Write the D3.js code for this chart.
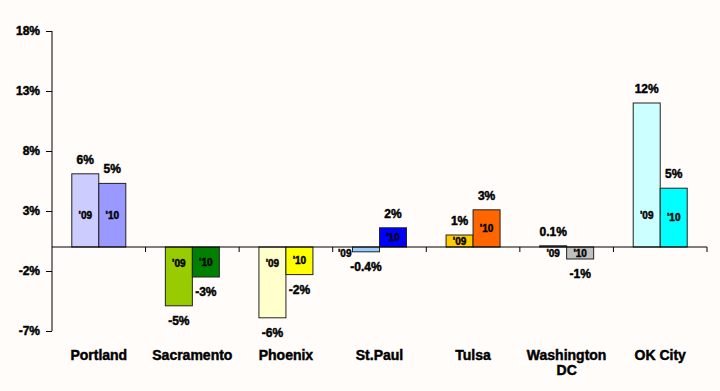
<!DOCTYPE html>
<html>
<head>
<meta charset="utf-8">
<script src="https://cdn.jsdelivr.net/npm/d3@7"></script>
<style>
  body { margin: 0; background: #fffcfa; }
  text { font-family: Arial, "Liberation Sans", sans-serif; font-weight: bold; fill: #000; stroke: #000; stroke-width: 0.45px; }
</style>
</head>
<body>
<div id="chart"></div>
<script>
// Data
let cities = ['Portland', 'Sacramento', 'Phoenix', 'St.Paul', 'Tulsa', 'Washington\nDC', 'OK City'];
let years = ["'09", "'10"];
let change09 = [6.1, -4.9, -5.9, -0.4, 1.0, 0.1, 12.0];
let change10 = [5.3, -2.5, -2.3, 1.6, 3.1, -1.0, 4.9];
let labels09 = ['6%', '-5%', '-6%', '-0.4%', '1%', '0.1%', '12%'];
let labels10 = ['5%', '-3%', '-2%', '2%', '3%', '-1%', '5%'];
let colors09 = ['#ccccff', '#99cc00', '#ffffcc', '#99ccff', '#ffcc00', '#808080', '#ccffff'];
let colors10 = ['#9999ff', '#008000', '#ffff00', '#0000ff', '#ff6600', '#c0c0c0', '#00ffff'];
let yTicks = [-7, -2, 3, 8, 13, 18];

// D3 Code
let width = 720;
let height = 391;

let svg = d3.select('#chart').append('svg').attr('width', width).attr('height', height);

let x = d3.scaleBand().domain(cities).range([52, 707]);

let xInner = d3.scaleBand().domain(years).range([0, 54]);

let y = d3.scaleLinear().domain([-7, 18]).range([331, 31]);

let rows = [];
cities.forEach(function (c, i) {
  rows.push({ city: c, year: years[0], value: change09[i], label: labels09[i], color: colors09[i] });
  rows.push({ city: c, year: years[1], value: change10[i], label: labels10[i], color: colors10[i] });
});

function barX(d) {
  return x(d.city) + (x.bandwidth() - 54) / 2 + xInner(d.year);
}

function barH(d) {
  return Math.abs(y(d.value) - y(0));
}

// y axis
let yAxis = svg
  .append('g')
  .attr('transform', 'translate(52, 0)')
  .call(
    d3
      .axisLeft(y)
      .tickValues(yTicks)
      .tickSize(6)
      .tickPadding(6)
      .tickFormat(function (d) {
        return d + '%';
      })
  );
yAxis.select('.domain').attr('stroke', '#000').attr('d', 'M0,' + y(18) + 'V' + y(-7));
yAxis.selectAll('.tick line').attr('stroke', '#000');
yAxis
  .selectAll('text')
  .style('font-size', '12px')
  .style('font-family', 'Arial, "Liberation Sans", sans-serif')
  .style('font-weight', 'bold')
  .style('stroke', '#000')
  .style('stroke-width', '0.45px');

// bars
svg
  .selectAll('rect.bar')
  .data(rows)
  .enter()
  .append('rect')
  .attr('class', 'bar')
  .attr('x', barX)
  .attr('width', xInner.bandwidth())
  .attr('y', function (d) {
    return y(Math.max(0, d.value));
  })
  .attr('height', barH)
  .style('fill', function (d) {
    return d.color;
  })
  .style('stroke', '#222')
  .style('stroke-width', 1);

// zero line with category ticks
let xAxis = svg
  .append('g')
  .attr('transform', 'translate(0,' + y(0) + ')')
  .call(d3.axisBottom(x).tickSize(0).tickFormat(''));
xAxis.select('.domain').attr('stroke', '#000').attr('d', 'M52,0H707');
xAxis.selectAll('.tick').remove();

svg
  .selectAll('line.cat')
  .data(cities)
  .enter()
  .append('line')
  .attr('class', 'cat')
  .attr('x1', function (d) {
    return x(d) + x.bandwidth();
  })
  .attr('x2', function (d) {
    return x(d) + x.bandwidth();
  })
  .attr('y1', y(0))
  .attr('y2', y(0) + 5)
  .style('stroke', '#000');

// value labels
svg
  .selectAll('text.value')
  .data(rows)
  .enter()
  .append('text')
  .attr('class', 'value')
  .attr('x', function (d) {
    return barX(d) + xInner.bandwidth() / 2;
  })
  .attr('y', function (d) {
    return d.value >= 0 ? y(d.value) - 10 : y(d.value) + 19;
  })
  .attr('text-anchor', 'middle')
  .style('font-size', '12px')
  .text(function (d) {
    return d.label;
  });

// year labels inside bars
svg
  .selectAll('text.year')
  .data(rows)
  .enter()
  .append('text')
  .attr('class', 'year')
  .attr('x', function (d) {
    if (d.value < 0 && barH(d) < 6) return barX(d) - 1;
    return barX(d) + xInner.bandwidth() / 2;
  })
  .attr('y', function (d) {
    let h = barH(d);
    if (h < 6) return y(0) + 9.5;
    if (d.value >= 0) return y(0) - Math.min(h / 2, 32) + 3.5;
    return y(0) + Math.min(h / 2, 16) + 3.5;
  })
  .attr('text-anchor', function (d) {
    return d.value < 0 && barH(d) < 6 ? 'end' : 'middle';
  })
  .style('font-size', '10px')
  .text(function (d) {
    return d.year;
  });

// category labels
let cat = svg
  .selectAll('text.city')
  .data(cities)
  .enter()
  .append('text')
  .attr('class', 'city')
  .attr('x', function (d) {
    return x(d) + x.bandwidth() / 2;
  })
  .attr('y', 360)
  .attr('text-anchor', 'middle')
  .style('font-size', '14px');

cat
  .selectAll('tspan')
  .data(function (d) {
    return d.split('\n');
  })
  .enter()
  .append('tspan')
  .attr('x', function () {
    let c = d3.select(this.parentNode).datum();
    return x(c) + x.bandwidth() / 2;
  })
  .attr('dy', function (d, i) {
    return i === 0 ? 0 : 15;
  })
  .text(function (d) {
    return d;
  });
</script>
</body>
</html>
